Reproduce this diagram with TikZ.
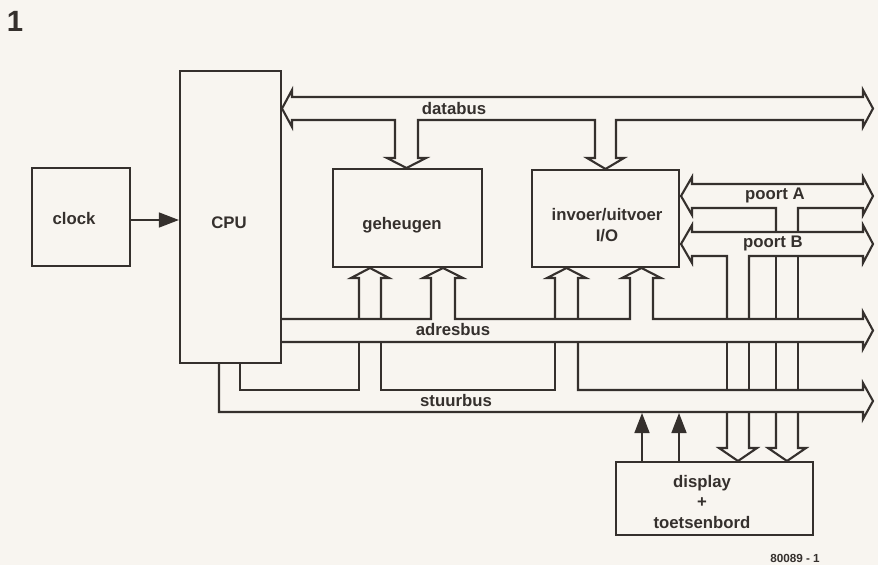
\documentclass[tikz,border=0pt]{standalone}
\usepackage{fontspec}
\setmainfont{Liberation Sans}
\usetikzlibrary{arrows.meta}
\definecolor{ink}{HTML}{35302D}
\definecolor{paper}{HTML}{F8F5F0}
\begin{document}
\begin{tikzpicture}[x=0.03cm,y=-0.03cm,line join=miter,
  bus/.style={draw=ink,line width=1.8pt},
  box/.style={draw=ink,line width=1.9pt,inner sep=0pt},
  lbl/.style={font=\fontsize{14.3}{17.5}\selectfont\bfseries,text=ink,inner sep=0pt,align=center},
  sig/.style={draw=ink,line width=1.3pt,-{Triangle[length=0.6cm,width=0.45cm]}}]
\fill[paper] (0,0) rectangle (878,565);
\useasboundingbox (0,0) rectangle (878,565);
% boxes
\node[box,minimum width=2.94cm,minimum height=2.94cm] (clock) at (81,217) {};
\node[box,minimum width=3.03cm,minimum height=8.76cm] (cpu) at (230.5,217) {};
\node[box,minimum width=4.47cm,minimum height=2.94cm] (mem) at (407.5,218) {};
\node[box,minimum width=4.41cm,minimum height=2.91cm] (io) at (605.5,218.5) {};
\node[box,minimum width=5.91cm,minimum height=2.19cm] (disp) at (714.5,498.5) {};
% texts
\node[lbl,font=\fontsize{25}{29}\selectfont\bfseries] (fig) at (15,21) {1};
\node[lbl] (tclock) at (74,219) {clock};
\node[lbl] (tcpu) at (229,223) {CPU};
\node[lbl] (tmem) at (402,225) {geheugen};
\node[lbl] (tio) at (607,225) {invoer/uitvoer\\I/O};
\node[lbl] (tdisp) at (702,502) {display\\+\\toetsenbord};
\node[lbl] (tdata) at (454,109) {databus};
\node[lbl] (tpa) at (775,195) {poort A};
\node[lbl] (tpb) at (773,243) {poort B};
\node[lbl] (tadr) at (453,330) {adresbus};
\node[lbl] (tstuur) at (456,401) {stuurbus};
\node[lbl,font=\fontsize{10}{12}\selectfont\bfseries] (tnum) at (795,558) {80089 - 1};
% clock -> CPU
\draw[sig] ([yshift=-0.09cm]clock.east) -- ([yshift=-0.09cm]clock.east -| cpu.west);
% databus
\draw[bus] (292,97) -- (863,97) -- (863,90) -- (873,108.5) -- (863,127) -- (863,120)
  -- (616,120) -- (616,158) -- (624,158) -- (605.5,169) -- (587,158) -- (595,158) -- (595,120)
  -- (418,120) -- (418,158) -- (426,158) -- (406.5,168) -- (387,158) -- (395,158) -- (395,120)
  -- (292,120) -- (292,127) -- (282,108.5) -- (292,90) -- cycle;
% poort A
\draw[bus] (776,232) -- (776,208) -- (692,208) -- (692,215) -- (681,196) -- (692,177) -- (692,184)
  -- (863,184) -- (863,177) -- (873,196) -- (863,215) -- (863,208) -- (798,208) -- (798,232);
% poort B
\draw[bus] (727,319) -- (727,256) -- (692,256) -- (692,263) -- (681,244) -- (692,225) -- (692,232)
  -- (863,232) -- (863,225) -- (873,244) -- (863,263) -- (863,256) -- (749,256) -- (749,319);
\draw[bus] (776,256) -- (776,319) (798,256) -- (798,319);
% adresbus
\draw[bus] (281,319) -- (431,319) -- (431,278) -- (423,278) -- (443,268) -- (463,278) -- (455,278) -- (455,319)
  -- (630,319) -- (630,278) -- (622,278) -- (641.5,268) -- (661,278) -- (653,278) -- (653,319)
  -- (863,319) -- (863,312) -- (873,330.5) -- (863,349) -- (863,342) -- (281,342);
% stuurbus
\draw[bus] (219,363) -- (219,412) -- (863,412) -- (863,419) -- (873,401) -- (863,383) -- (863,390)
  -- (578,390) -- (578,342);
\draw[bus] (555,342) -- (555,390) -- (381,390) -- (381,342);
\draw[bus] (359,342) -- (359,390) -- (240,390) -- (240,363);
\draw[bus] (359,319) -- (359,278) -- (351,278) -- (370,268) -- (389,278) -- (381,278) -- (381,319);
\draw[bus] (555,319) -- (555,278) -- (547,278) -- (566.5,268) -- (586,278) -- (578,278) -- (578,319);
% drops to display
\draw[bus] (727,342) -- (727,390) (749,342) -- (749,390) (776,342) -- (776,390) (798,342) -- (798,390);
\draw[bus] (727,412) -- (727,448) -- (719,448) -- (738,461) -- (757,448) -- (749,448) -- (749,412);
\draw[bus] (776,412) -- (776,448) -- (768,448) -- (787,461) -- (806,448) -- (798,448) -- (798,412);
% display -> stuurbus
\coordinate (s1) at (642,413);
\coordinate (s2) at (679,413);
\draw[sig] (disp.north -| s1) -- (s1);
\draw[sig] (disp.north -| s2) -- (s2);
\end{tikzpicture}
\end{document}
